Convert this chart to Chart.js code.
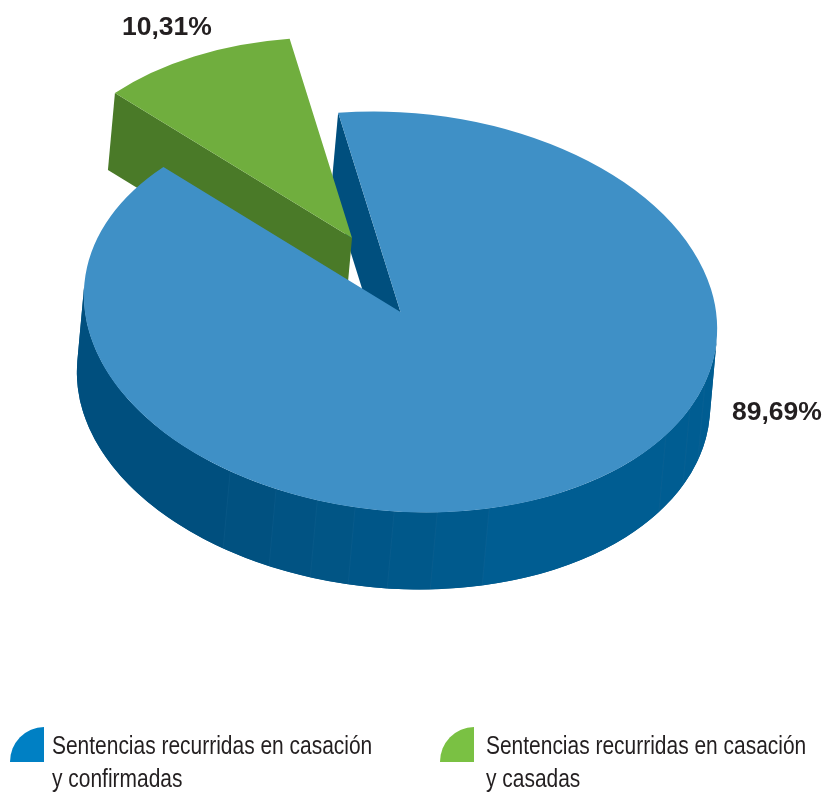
<!DOCTYPE html>
<html>
<head>
<meta charset="utf-8">
<title>Sentencias recurridas en casación</title>
<script src="https://cdn.jsdelivr.net/npm/chart.js@4"></script>
<style>
  html, body { margin: 0; padding: 0; background: #fff; }
  #wrap { position: relative; width: 826px; height: 793px; overflow: hidden; }
  #grafica { position: absolute; left: 0; top: 0; }
  .icono { position: absolute; top: 727px; width: 34px; height: 35px; border-top-left-radius: 34px 35px; }
  .texto {
    position: absolute; top: 729px; white-space: nowrap; color: #231f20;
    font: 25px/33px "Liberation Sans", sans-serif;
    transform: scaleX(0.838); transform-origin: left top;
  }
</style>
</head>
<body>
<div id="wrap">
  <canvas id="grafica" width="826" height="793"></canvas>
  <div class="icono" id="icono0" style="left:10px"></div>
  <div class="texto" id="texto0" style="left:52px"></div>
  <div class="icono" id="icono1" style="left:440px"></div>
  <div class="texto" id="texto1" style="left:486px"></div>
</div>
<script>
const categorias = ["Sentencias recurridas en casación<br>y confirmadas", "Sentencias recurridas en casación<br>y casadas"];
const valores = [89.69, 10.31];
const coloresCara = ["#3f90c6", "#70ae3e"];
const coloresLeyenda = ["#0080c4", "#7ac143"];

// the flat pie is sheared onto this tilted ellipse
const CENTRO = { x: 400.5, y: 312 };
const EJE_A = 317.4;
const EJE_B = 199.3;
const GIRO = 5 * Math.PI / 180;
const PROFUNDIDAD = { x: -7, y: 77 };
const SEPARACION = { x: -48.5, y: -74 }; // exploded green slice

// shaded facets on the front wall, left to right
const cortes = [119.4, 110, 102.1, 95.1, 88, 80.2, 70.6, 29.9, 20.8, 12.8];
const tonosPared = ["#004f7e", "#015180", "#015383", "#015585", "#005688", "#00588a", "#005a8d", "#005d92", "#005d92", "#005d92", "#005d92"];

const posEtiquetas = [{ x: 732, y: 420 }, { x: 122, y: 35 }];

function formatoValor(v) {
  return v.toFixed(2).replace(".", ",") + "%";
}

function aplicarCara(ctx, arco, sep) {
  const R = arco.outerRadius;
  ctx.translate(CENTRO.x + sep.x, CENTRO.y + sep.y);
  ctx.rotate(GIRO);
  ctx.scale(EJE_A / R, EJE_B / R);
  ctx.translate(-arco.x, -arco.y);
}

// extrusion vector expressed in the flat pie's own coordinates
function profundidadPlana(R) {
  const c = Math.cos(GIRO), s = Math.sin(GIRO);
  return {
    x: (PROFUNDIDAD.x * c + PROFUNDIDAD.y * s) / EJE_A * R,
    y: (-PROFUNDIDAD.x * s + PROFUNDIDAD.y * c) / EJE_B * R,
  };
}

function paredRadial(ctx, arco, angulo, sep, color) {
  const R = arco.outerRadius;
  const d = profundidadPlana(R);
  const bx = arco.x + R * Math.cos(angulo);
  const by = arco.y + R * Math.sin(angulo);
  ctx.save();
  aplicarCara(ctx, arco, sep);
  ctx.beginPath();
  ctx.moveTo(arco.x, arco.y);
  ctx.lineTo(bx, by);
  ctx.lineTo(bx + d.x, by + d.y);
  ctx.lineTo(arco.x + d.x, arco.y + d.y);
  ctx.closePath();
  ctx.fillStyle = color;
  ctx.fill();
  ctx.restore();
}

function trozoPared(ctx, arco, a1, a2, d) {
  ctx.beginPath();
  ctx.arc(arco.x, arco.y, arco.outerRadius, a1, a2, true);
  ctx.arc(arco.x + d.x, arco.y + d.y, arco.outerRadius, a2, a1, false);
  ctx.closePath();
}

function paredFrontal(ctx, arco) {
  const R = arco.outerRadius;
  const d = profundidadPlana(R);
  const medio = Math.atan2(d.y, d.x);
  const ini = medio + Math.PI / 2;
  const fin = medio - Math.PI / 2;
  const limites = [ini, ...cortes.map((g) => g * Math.PI / 180), fin];
  ctx.save();
  aplicarCara(ctx, arco, { x: 0, y: 0 });
  trozoPared(ctx, arco, ini, fin, d);
  ctx.fillStyle = "#005688";
  ctx.fill();
  tonosPared.forEach((tono, i) => {
    trozoPared(ctx, arco, limites[i], limites[i + 1], d);
    ctx.fillStyle = tono;
    ctx.fill();
  });
  cortes.forEach((g) => {
    const a = g * Math.PI / 180;
    const x = arco.x + R * Math.cos(a);
    const y = arco.y + R * Math.sin(a);
    ctx.beginPath();
    ctx.moveTo(x, y);
    ctx.lineTo(x + d.x, y + d.y);
    ctx.strokeStyle = "rgba(255,255,255,0.05)";
    ctx.lineWidth = 1;
    ctx.stroke();
  });
  ctx.restore();
}

const pastel3d = {
  id: "pastel3d",
  beforeDatasetDraw(chart) {
    const ctx = chart.ctx;
    const [azul, verde] = chart.getDatasetMeta(0).data;
    const nulo = { x: 0, y: 0 };

    // back to front
    paredRadial(ctx, azul, azul.startAngle, nulo, "#004f7e");
    paredRadial(ctx, verde, verde.startAngle, SEPARACION, "#4a7a28");

    ctx.save();
    aplicarCara(ctx, verde, SEPARACION);
    verde.draw(ctx);
    ctx.restore();

    paredFrontal(ctx, azul);

    ctx.save();
    aplicarCara(ctx, azul, nulo);
    azul.draw(ctx);
    ctx.restore();

    return false;
  },
  afterDraw(chart) {
    const ctx = chart.ctx;
    ctx.save();
    ctx.fillStyle = "#231f20";
    ctx.font = 'bold 26.5px "Liberation Sans", sans-serif';
    ctx.textAlign = "left";
    ctx.textBaseline = "alphabetic";
    valores.forEach((v, i) => {
      ctx.fillText(formatoValor(v), posEtiquetas[i].x, posEtiquetas[i].y);
    });
    ctx.restore();
  },
};

new Chart(document.getElementById("grafica"), {
  type: "pie",
  data: {
    labels: categorias,
    datasets: [
      {
        data: valores,
        backgroundColor: coloresCara,
        borderWidth: 0,
      },
    ],
  },
  options: {
    responsive: false,
    animation: false,
    events: [],
    rotation: -14.5,
    plugins: {
      legend: { display: false },
      tooltip: { enabled: false },
    },
  },
  plugins: [pastel3d],
});

categorias.forEach((c, i) => {
  document.getElementById("texto" + i).innerHTML = c;
  document.getElementById("icono" + i).style.background = coloresLeyenda[i];
});
</script>
</body>
</html>
